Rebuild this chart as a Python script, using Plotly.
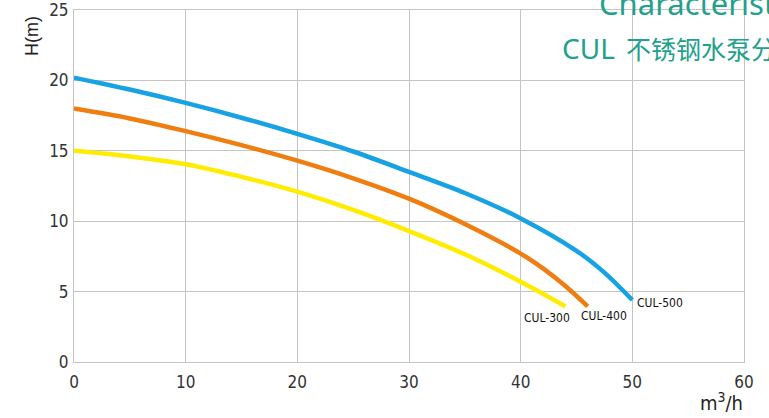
import plotly.graph_objects as go

# Flow (m3/h) and head (m)
x_500 = [0, 5, 10, 15, 20, 25, 30, 35, 40, 45, 47.5, 50]
h_500 = [20.2, 19.35, 18.4, 17.35, 16.2, 14.95, 13.5, 12.0, 10.2, 7.9, 6.35, 4.4]
x_400 = [0, 5, 10, 15, 20, 25, 30, 35, 40, 42, 44, 46]
h_400 = [18.0, 17.3, 16.4, 15.4, 14.3, 13.05, 11.6, 9.8, 7.7, 6.65, 5.4, 3.95]
x_300 = [0, 5, 10, 15, 20, 25, 30, 35, 40, 44]
h_300 = [15.0, 14.6, 14.05, 13.15, 12.1, 10.8, 9.3, 7.65, 5.7, 3.95]

names = ["CUL-500", "CUL-400", "CUL-300"]
colors = ["#17a2e3", "#ef7d10", "#ffec00"]
x_ticks = [0, 10, 20, 30, 40, 50, 60]
y_ticks = [0, 5, 10, 15, 20, 25]

# label anchor points (data coords)
label_x = [52.5, 47.5, 42.4]
label_y = [4.2, 3.25, 3.1]

fig = go.Figure()
for xs, ys, nm, c in zip([x_500, x_400, x_300], [h_500, h_400, h_300], names, colors):
    fig.add_trace(go.Scatter(x=xs, y=ys, mode="lines", name=nm,
                             line=dict(color=c, width=4.5, shape="spline", smoothing=1.0)))

narrow = "Liberation Sans Narrow, DejaVu Sans Condensed, Arial Narrow, Liberation Sans, Arial"
tick_font = dict(family=narrow, size=17, color="#333333")

annotations = []
for nm, lx, ly in zip(names, label_x, label_y):
    annotations.append(dict(x=lx, y=ly, xref="x", yref="y", text=nm, showarrow=False,
                            font=dict(family=narrow, size=12, color="#111111")))

teal = "#22a08b"
annotations += [
    dict(x=(597 - 74) / 670, y=1.02, xref="paper", yref="paper", xanchor="left", yanchor="middle",
         text="Characteristic", showarrow=False,
         font=dict(family="Noto Sans, Open Sans", size=31, color=teal)),
    dict(x=(560 - 74) / 670, y=0.892, xref="paper", yref="paper", xanchor="left", yanchor="middle",
         text="<span style='font-family:Noto Sans;font-size:28px'>CUL</span>  不锈钢水泵分", showarrow=False,
         font=dict(family="Noto Sans CJK SC, Noto Sans", size=25, color=teal)),
    dict(x=(721 - 74) / 670, y=-(402 - 362) / 352, xref="paper", yref="paper", xanchor="center", yanchor="middle",
         text="m<sup>3</sup>/h", showarrow=False,
         font=dict(family=narrow, size=20, color="#222222")),
    dict(x=(32 - 74) / 670, y=1 - (36 - 10) / 352, xref="paper", yref="paper", xanchor="center", yanchor="middle",
         text="H(m)", textangle=-90, showarrow=False,
         font=dict(family="Liberation Sans, Arial", size=18, color="#222222")),
]

fig.update_layout(
    width=769, height=418,
    margin=dict(l=74, r=25, t=10, b=56),
    paper_bgcolor="white", plot_bgcolor="white",
    showlegend=False,
    annotations=annotations,
    xaxis=dict(range=[0, 60], tickvals=x_ticks, showgrid=True, gridcolor="#c4c4c4", gridwidth=1,
               showline=True, linecolor="#c4c4c4", linewidth=1, mirror=True, zeroline=False,
               ticks="", tickfont=tick_font, ticklabelstandoff=5, automargin=False,
               ticklabeloverflow="allow"),
    yaxis=dict(range=[0, 25], tickvals=y_ticks, showgrid=True, gridcolor="#c4c4c4", gridwidth=1,
               showline=True, linecolor="#c4c4c4", linewidth=1, mirror=True, zeroline=False,
               ticks="", tickfont=tick_font, ticklabelstandoff=1, automargin=False,
               ticklabeloverflow="allow"),
)

fig.write_html("out.html", config={"displayModeBar": False},
               post_script="document.body.style.margin='0';document.body.style.overflow='hidden';")
